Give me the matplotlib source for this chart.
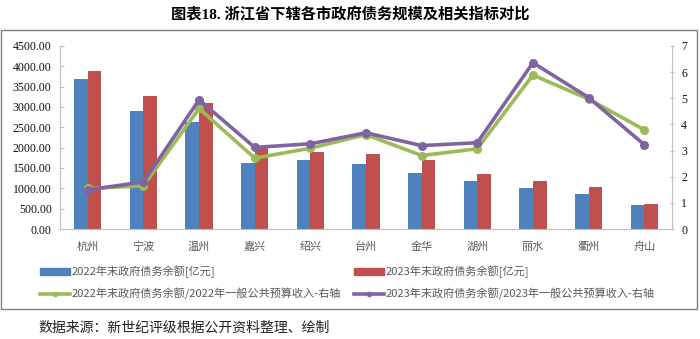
import matplotlib
matplotlib.use("Agg")
import matplotlib.pyplot as plt
from matplotlib.patches import Rectangle
from matplotlib.lines import Line2D
import numpy as np

plt.rcParams['font.family'] = ['Noto Sans CJK SC', 'DejaVu Sans']

cities = ["杭州", "宁波", "温州", "嘉兴", "绍兴", "台州", "金华", "湖州", "丽水", "衢州", "舟山"]
debt_2022 = [3680, 2890, 2640, 1620, 1690, 1605, 1375, 1190, 1015, 855, 600]
debt_2023 = [3880, 3260, 3090, 1985, 1885, 1835, 1690, 1360, 1190, 1025, 615]
ratio_2022 = [1.55, 1.65, 4.61, 2.71, 3.09, 3.61, 2.81, 3.07, 5.89, 4.97, 3.80]
ratio_2023 = [1.50, 1.80, 4.94, 3.12, 3.26, 3.68, 3.19, 3.30, 6.36, 5.03, 3.23]

left_ticks = np.arange(0, 4501, 500)
right_ticks = np.arange(0, 8, 1)

c_blue, c_red, c_green, c_purple = "#4F81BD", "#C0504D", "#9BBB59", "#8064A2"
grey_txt = "#595959"

fig = plt.figure(figsize=(7.0, 3.39), dpi=100)

# outer frame
fig.patches.append(Rectangle((0.002, 1 - 309 / 339), 0.993, (309 - 30) / 339,
                             transform=fig.transFigure, fill=False,
                             edgecolor="#7f7f7f", linewidth=1.0))

fig.text(0.5, 1 - 15 / 339, "图表18. 浙江省下辖各市政府债务规模及相关指标对比",
         ha="center", va="center", fontsize=11, fontweight="bold",
         family=["Liberation Serif", "Noto Sans CJK SC"])
fig.text(38 / 700, 1 - 328 / 339, "数据来源：新世纪评级根据公开资料整理、绘制",
         ha="left", va="center", fontsize=10, color="#222222")

ax = fig.add_axes([60 / 700, 1 - 229 / 339, (672 - 60) / 700, (229 - 46) / 339])
x = np.arange(len(cities))
w = 0.245
ax.bar(x - w / 2, debt_2022, width=w, color=c_blue, zorder=2)
ax.bar(x + w / 2, debt_2023, width=w, color=c_red, zorder=2)
ax.set_xlim(-0.5, len(cities) - 0.5)
ax.set_ylim(0, 4500)
ax.set_yticks(left_ticks)
ax.set_yticklabels([f"{v:.2f}" for v in left_ticks], family="Liberation Serif",
                   fontsize=8.5, color="#111111")
ax.set_xticks(x)
ax.set_xticklabels(cities, fontsize=8, color=grey_txt)
for s in ("top", "right"):
    ax.spines[s].set_visible(False)
ax.spines["left"].set_color("#bfbfbf")
ax.spines["bottom"].set_color("#bfbfbf")
ax.tick_params(axis="y", length=3, direction="in", color="#bfbfbf", pad=6)
ax.tick_params(axis="x", length=0, pad=9)

ax2 = ax.twinx()
ax2.plot(x, ratio_2022, color=c_green, lw=2.6, marker="o", ms=5.5, zorder=3)
ax2.plot(x, ratio_2023, color=c_purple, lw=2.6, marker="o", ms=5.5, zorder=4)
ax2.set_ylim(0, 7)
ax2.set_yticks(right_ticks)
ax2.set_yticklabels([str(v) for v in right_ticks], family="Liberation Serif",
                    fontsize=8.5, color="#111111")
for s in ("top", "left", "bottom"):
    ax2.spines[s].set_visible(False)
ax2.spines["right"].set_color("#bfbfbf")
ax2.tick_params(axis="y", length=3, direction="inout", color="#bfbfbf", pad=5)

legend_kw = dict(loc="center left", frameon=False, fontsize=8,
                 handlelength=2.7, handleheight=0.5, handletextpad=0.15,
                 labelspacing=0.85, borderpad=0, borderaxespad=0)

col1 = fig.legend(
    [Rectangle((0, 0), 1, 1, color=c_blue),
     Line2D([], [], color=c_green, lw=2.6, marker="o", ms=3)],
    ["2022年末政府债务余额[亿元]",
     "2022年末政府债务余额/2022年一般公共预算收入-右轴"],
    bbox_to_anchor=(40 / 700, 1 - 283 / 339), **legend_kw)
col2 = fig.legend(
    [Rectangle((0, 0), 1, 1, color=c_red),
     Line2D([], [], color=c_purple, lw=2.6, marker="o", ms=3)],
    ["2023年末政府债务余额[亿元]",
     "2023年末政府债务余额/2023年一般公共预算收入-右轴"],
    bbox_to_anchor=(354 / 700, 1 - 283 / 339), **legend_kw)
for lg in (col1, col2):
    for t in lg.get_texts():
        t.set_color(grey_txt)

fig.savefig("out.png", dpi=100)
